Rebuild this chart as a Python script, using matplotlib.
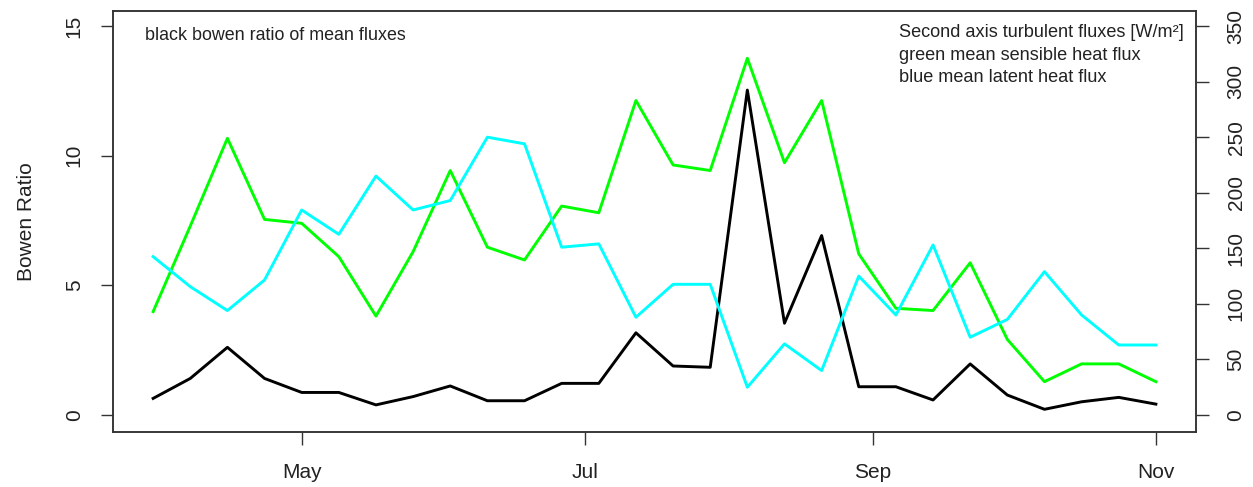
import matplotlib
matplotlib.use("Agg")
import matplotlib.pyplot as plt
import matplotlib.dates as mdates
import numpy as np
import pandas as pd

# 8-day composites, DOY 89 .. 305
dates = pd.date_range("2015-03-30", periods=28, freq="8D")

bowen = [0.64, 1.41, 2.61, 1.41, 0.87, 0.87, 0.39, 0.71, 1.12, 0.55, 0.55, 1.22, 1.22, 3.17,
         1.89, 1.84, 12.53, 3.54, 6.92, 1.09, 1.09, 0.58, 1.97, 0.77, 0.22, 0.51, 0.68, 0.42]
sensible = [93, 170, 249, 176, 172.5, 142.5, 89, 147, 220, 151, 139.5, 188, 182, 283,
            225, 220, 321, 227, 283, 145, 96, 94, 137, 68, 30, 46, 46, 30]
latent = [142.5, 115.5, 94, 121.5, 184.5, 162.6, 215, 184.5, 193, 250, 244, 151, 154, 88,
          117.6, 117.6, 25, 64, 40, 125, 90, 153, 70, 86, 129, 90, 63, 63]

left_ticks = [0, 5, 10, 15]
right_ticks = [0, 50, 100, 150, 200, 250, 300, 350]
month_ticks = ["2015-05-01", "2015-07-01", "2015-09-01", "2015-11-01"]

plt.rcParams['font.family'] = ['Liberation Sans', 'DejaVu Sans']
axcol = '#333333'

fig = plt.figure(figsize=(12.53, 4.87), dpi=100)
ax = fig.add_axes([0.0902, 0.1129, 0.8643, 0.8645])

ax.plot(dates, bowen, color='black', lw=2.1)
ylo, yhi = -0.656, 15.58
ax.set_ylim(ylo, yhi)
pad = pd.Timedelta(days=8.64)
ax.set_xlim(dates[0] - pad, dates[-1] + pad)

ax.set_yticks(left_ticks)
ax.set_xticks(pd.to_datetime(month_ticks))
ax.xaxis.set_major_formatter(mdates.DateFormatter('%b'))
ax.tick_params(axis='y', length=9, width=1, color=axcol, pad=12, labelsize=15,
               labelcolor='#222222')
ax.tick_params(axis='x', length=9, width=1, color=axcol, pad=13, labelsize=15,
               labelcolor='#222222')
for lab in ax.get_yticklabels():
    lab.set_rotation(90)
    lab.set_va('center')
ax.set_ylabel('Bowen Ratio', fontsize=15, color='#222222', labelpad=21)

ax2 = ax.twinx()
scale = 350 / 15.0
ax2.plot(dates, sensible, color='#00ff00', lw=2.1)
ax2.plot(dates, latent, color='#00ffff', lw=2.1)
ax2.set_ylim(ylo * scale, yhi * scale)
ax2.set_yticks(right_ticks)
ax2.tick_params(axis='y', length=9, width=1, color=axcol, pad=13, labelsize=15,
                labelcolor='#222222')
for lab in ax2.get_yticklabels():
    lab.set_rotation(90)
    lab.set_va('center')

for a in (ax, ax2):
    for s in a.spines.values():
        s.set_color(axcol)
        s.set_linewidth(1.1)

ax.text(0.0295, 0.943, 'black bowen ratio of mean fluxes', transform=ax.transAxes,
        fontsize=12.9, va='center', ha='left', color='#222222')
notes = ['Second axis turbulent fluxes [W/m²]',
         'green mean sensible heat flux',
         'blue mean latent heat flux']
for i, t in enumerate(notes):
    ax.text(0.7258, 0.948 - i * 0.0525, t, transform=ax.transAxes,
            fontsize=13.1, va='center', ha='left', color='#222222')

fig.savefig('out.png', dpi=100)
